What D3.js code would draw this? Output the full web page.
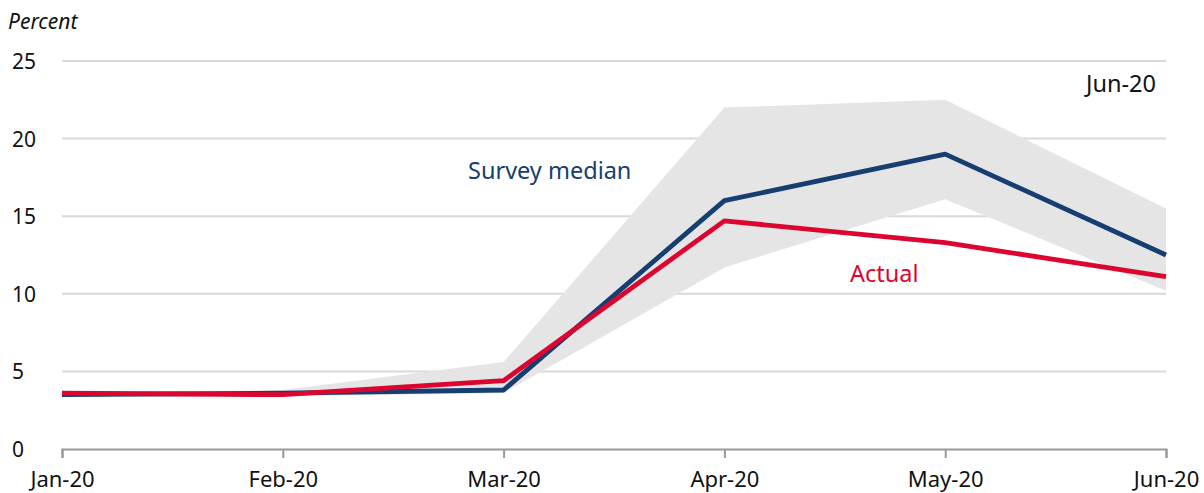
<!DOCTYPE html>
<html>
<head>
<meta charset="utf-8">
<script src="https://cdn.jsdelivr.net/npm/d3@7"></script>
<style>
  body { margin: 0; background: #fff; }
  text { font-family: "Noto Sans", Lato, sans-serif; }
</style>
</head>
<body>
<div id="chart"></div>
<script>
var months = ["Jan-20", "Feb-20", "Mar-20", "Apr-20", "May-20", "Jun-20"];
var surveyMedian = [3.5, 3.6, 3.8, 16.0, 19.0, 12.5];
var actual = [3.6, 3.5, 4.4, 14.7, 13.3, 11.1];
var rangeHigh = [3.6, 3.8, 5.6, 22.0, 22.5, 15.5];
var rangeLow = [3.4, 3.4, 3.6, 11.7, 16.1, 10.2];
var yTicks = [0, 5, 10, 15, 20, 25];

var width = 1204,
	height = 493,
	margin = {left: 62, right: 38, top: 61, bottom: 44};

var svg = d3.select("#chart")
	.append("svg")
	.attr("width", width)
	.attr("height", height);

var x = d3.scalePoint()
	.domain(months)
	.range([margin.left, width - margin.right]);

var y = d3.scaleLinear()
	.domain([0, 25])
	.range([height - margin.bottom, margin.top]);

// gridlines
svg.append("g")
	.selectAll("line")
	.data(yTicks.filter(function(d) { return d > 0; }))
	.enter().append("line")
	.attr("x1", margin.left)
	.attr("x2", width - margin.right)
	.attr("y1", function(d) { return y(d); })
	.attr("y2", function(d) { return y(d); })
	.style("stroke", "#d9d9d9")
	.style("stroke-width", 2);

// y labels
svg.append("g")
	.selectAll("text")
	.data(yTicks)
	.enter().append("text")
	.attr("x", 12)
	.attr("y", function(d) { return y(d) + 8; })
	.text(function(d) { return d; })
	.style("font-size", "21px")
	.style("fill", "#111");

svg.append("text")
	.attr("x", 8)
	.attr("y", 29)
	.text("Percent")
	.style("font-size", "21px")
	.style("font-style", "italic")
	.style("fill", "#111");

// range band
var idx = d3.range(months.length);
var area = d3.area()
	.x(function(i) { return x(months[i]); })
	.y0(function(i) { return y(rangeLow[i]); })
	.y1(function(i) { return y(rangeHigh[i]); });

svg.append("path")
	.datum(idx)
	.attr("d", area)
	.style("fill", "#e5e5e5");

// x axis
var xAxis = svg.append("g")
	.attr("transform", "translate(0," + y(0) + ")")
	.call(d3.axisBottom(x).tickSize(9).tickPadding(13));

xAxis.select(".domain").style("stroke", "#999").style("stroke-width", 2);
xAxis.selectAll(".tick line").style("stroke", "#999").style("stroke-width", 2);
xAxis.selectAll(".tick text")
	.style("font-size", "22px")
	.style("font-family", "'Noto Sans', Lato, sans-serif")
	.style("fill", "#111");

var line = function(vals) {
	return d3.line()
		.x(function(i) { return x(months[i]); })
		.y(function(i) { return y(vals[i]); })(idx);
};

svg.append("path")
	.attr("d", line(surveyMedian))
	.style("fill", "none")
	.style("stroke", "#163e70")
	.style("stroke-width", 4.8)
	.style("stroke-linejoin", "round");

svg.append("path")
	.attr("d", line(actual))
	.style("fill", "none")
	.style("stroke", "#dc0530")
	.style("stroke-width", 4.8)
	.style("stroke-linejoin", "round");

svg.append("text")
	.attr("x", 468)
	.attr("y", 179)
	.text("Survey median")
	.style("font-size", "23.5px")
	.style("fill", "#163e70");

svg.append("text")
	.attr("x", 850)
	.attr("y", 282)
	.text("Actual")
	.style("font-size", "23.5px")
	.style("fill", "#dc0530");

svg.append("text")
	.attr("x", 1156)
	.attr("y", 92)
	.attr("text-anchor", "end")
	.text("Jun-20")
	.style("font-size", "23.5px")
	.style("fill", "#111");
</script>
</body>
</html>
